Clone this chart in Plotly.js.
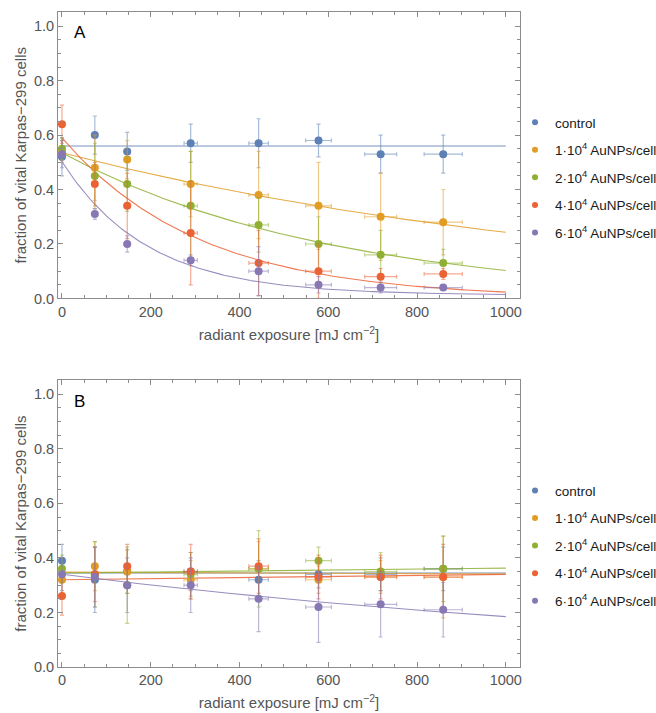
<!DOCTYPE html>
<html>
<head>
<meta charset="utf-8">
<script src="https://cdn.plot.ly/plotly-3.0.1.min.js"></script>
<style>
  html, body { margin: 0; padding: 0; background: #ffffff; }
  #chart { width: 656px; height: 713px; }
</style>
</head>
<body>
<div id="chart"></div>
<script>
// Radiant exposure of each irradiation step [mJ cm^-2] and its uncertainty
const exposure    = [0, 74, 147, 290, 443, 578, 718, 859];
const exposureErr = [0, 4, 7, 15, 22, 29, 36, 43];

const seriesNames = [
  'control',
  '1·10<sup>4</sup> AuNPs/cell',
  '2·10<sup>4</sup> AuNPs/cell',
  '4·10<sup>4</sup> AuNPs/cell',
  '6·10<sup>4</sup> AuNPs/cell'
];
const seriesColors = ['#5E81B5', '#E19C24', '#8FB032', '#EB6235', '#8778B3'];

// Panel A: fraction of vital cells
const controlA    = [0.52, 0.60, 0.54, 0.57, 0.57, 0.58, 0.53, 0.53];
const controlAErr = [0.07, 0.07, 0.07, 0.07, 0.09, 0.06, 0.07, 0.07];
const np1A        = [0.54, 0.48, 0.51, 0.42, 0.38, 0.34, 0.30, 0.28];
const np1AErr     = [0.04, 0.12, 0.07, 0.12, 0.16, 0.16, 0.16, 0.12];
const np2A        = [0.55, 0.45, 0.42, 0.34, 0.27, 0.20, 0.16, 0.13];
const np2AErr     = [0.04, 0.12, 0.10, 0.20, 0.10, 0.10, 0.09, 0.05];
const np4A        = [0.64, 0.42, 0.34, 0.24, 0.13, 0.10, 0.08, 0.09];
const np4AErr     = [0.07, 0.08, 0.12, 0.19, 0.12, 0.10, 0.03, 0.02];
const np6A        = [0.53, 0.31, 0.20, 0.14, 0.10, 0.05, 0.04, 0.04];
const np6AErr     = [0.05, 0.02, 0.03, 0.02, 0.09, 0.03, 0.02, 0.01];

// Panel A: exponential fit  f(D) = amp * exp(-rate * D) + offset
const fitAmpA    = [0.56, 0.535, 0.535, 0.59, 0.49];
const fitRateA   = [0, 0.00079, 0.00165, 0.00324, 0.0052];
const fitOffsetA = [0, 0, 0, 0, 0.012];

// Panel B: fraction of vital cells
const controlB    = [0.39, 0.32, 0.35, 0.35, 0.32, 0.34, 0.34, 0.36];
const controlBErr = [0.06, 0.12, 0.08, 0.07, 0.07, 0.05, 0.06, 0.08];
const np1B        = [0.32, 0.37, 0.35, 0.32, 0.36, 0.32, 0.33, 0.33];
const np1BErr     = [0.05, 0.09, 0.08, 0.07, 0.10, 0.05, 0.06, 0.15];
const np2B        = [0.36, 0.34, 0.30, 0.34, 0.36, 0.39, 0.35, 0.36];
const np2BErr     = [0.05, 0.12, 0.14, 0.08, 0.14, 0.05, 0.07, 0.12];
const np4B        = [0.26, 0.34, 0.37, 0.35, 0.37, 0.33, 0.33, 0.33];
const np4BErr     = [0.07, 0.10, 0.08, 0.10, 0.10, 0.08, 0.08, 0.12];
const np6B        = [0.34, 0.33, 0.30, 0.30, 0.25, 0.22, 0.23, 0.21];
const np6BErr     = [0.06, 0.11, 0.10, 0.10, 0.12, 0.13, 0.12, 0.10];

// Panel B: exponential fit
const fitAmpB    = [0.345, 0.348, 0.345, 0.32, 0.34];
const fitRateB   = [0, 0.00002, -0.00005, -0.00006, 0.00061];
const fitOffsetB = [0, 0, 0, 0, 0];

const fitMaxExposure = 1000;

const panelA = {
  values: [controlA, np1A, np2A, np4A, np6A],
  errors: [controlAErr, np1AErr, np2AErr, np4AErr, np6AErr],
  amp: fitAmpA, rate: fitRateA, offset: fitOffsetA,
  xaxis: 'x', yaxis: 'y', legend: 'legend'
};
const panelB = {
  values: [controlB, np1B, np2B, np4B, np6B],
  errors: [controlBErr, np1BErr, np2BErr, np4BErr, np6BErr],
  amp: fitAmpB, rate: fitRateB, offset: fitOffsetB,
  xaxis: 'x2', yaxis: 'y2', legend: 'legend2'
};

function rgba(hex, a) {
  const n = parseInt(hex.slice(1), 16);
  return 'rgba(' + (n >> 16 & 255) + ',' + (n >> 8 & 255) + ',' + (n & 255) + ',' + a + ')';
}

function fitCurve(amp, rate, offset) {
  const xs = [], ys = [];
  for (let d = 0; d <= fitMaxExposure; d += 5) {
    xs.push(d);
    ys.push(amp * Math.exp(-rate * d) + offset);
  }
  return { xs, ys };
}

function panelTraces(p) {
  const lines = [], points = [], keys = [];
  seriesNames.forEach((name, i) => {
    const c = fitCurve(p.amp[i], p.rate[i], p.offset[i]);
    lines.push({
      type: 'scatter', mode: 'lines', x: c.xs, y: c.ys,
      xaxis: p.xaxis, yaxis: p.yaxis, showlegend: false, hoverinfo: 'skip',
      line: { color: rgba(seriesColors[i], 0.85), width: 1.1 }
    });
    points.push({
      type: 'scatter', mode: 'markers', name: name,
      x: exposure, y: p.values[i],
      xaxis: p.xaxis, yaxis: p.yaxis, showlegend: false,
      marker: { color: seriesColors[i], size: 8 },
      error_y: { type: 'data', array: p.errors[i], visible: true,
                 color: rgba(seriesColors[i], 0.55), thickness: 1.2, width: 2 },
      error_x: { type: 'data', array: exposureErr, visible: true,
                 color: rgba(seriesColors[i], 0.55), thickness: 1.2, width: 2 }
    });
    // legend key: a small dot per series
    keys.push({
      type: 'scatter', mode: 'markers', name: name, x: [null], y: [null],
      xaxis: p.xaxis, yaxis: p.yaxis, legend: p.legend, legendgroup: p.legend + i,
      marker: { color: seriesColors[i], size: 6 }, hoverinfo: 'skip'
    });
  });
  return lines.concat(points, keys);
}

const data = panelTraces(panelA).concat(panelTraces(panelB));

const fontFamily = 'Liberation Sans, Arial, sans-serif';
const frameColor = '#8c8c8c';
const labelColor = '#555555';

function xAxis(anchor) {
  return {
    anchor: anchor, domain: [0, 1], range: [-9, 1032],
    showline: true, mirror: 'ticks', linecolor: frameColor, linewidth: 1,
    ticks: 'inside', ticklen: 5, tickcolor: frameColor, tickwidth: 1,
    dtick: 200, tick0: 0,
    minor: { dtick: 50, ticks: 'inside', ticklen: 3, tickcolor: frameColor },
    showgrid: false, zeroline: false,
    tickfont: { family: fontFamily, size: 14.5, color: labelColor },
    title: { text: 'radiant exposure [mJ cm<sup>−2</sup>]',
             font: { family: fontFamily, size: 15, color: labelColor }, standoff: 10 }
  };
}
function yAxis(anchor, domain) {
  return {
    anchor: anchor, domain: domain, range: [0, 1.052],
    showline: true, mirror: 'ticks', linecolor: frameColor, linewidth: 1,
    ticks: 'inside', ticklen: 5, tickcolor: frameColor, tickwidth: 1,
    dtick: 0.2, tick0: 0, tickformat: '.1f',
    minor: { dtick: 0.05, ticks: 'inside', ticklen: 3, tickcolor: frameColor },
    showgrid: false, zeroline: false,
    tickfont: { family: fontFamily, size: 14.5, color: labelColor },
    title: { text: 'fraction of vital Karpas−299 cells',
             font: { family: fontFamily, size: 15, color: labelColor }, standoff: 3 }
  };
}
function legendBox(y) {
  return {
    x: 0.9892, xanchor: 'left', y: y, yanchor: 'top',
    bgcolor: 'rgba(0,0,0,0)', borderwidth: 0,
    font: { family: fontFamily, size: 13.5, color: '#1a1a1a' },
    itemsizing: 'trace', tracegroupgap: 7, traceorder: 'grouped'
  };
}

const layout = {
  width: 656, height: 713,
  margin: { l: 58, r: 136, t: 12, b: 46, autoexpand: false },
  paper_bgcolor: '#ffffff', plot_bgcolor: '#ffffff',
  font: { family: fontFamily },
  showlegend: true,
  xaxis: xAxis('y'),
  yaxis: yAxis('x', [0.5627, 1]),
  xaxis2: xAxis('y2'),
  yaxis2: yAxis('x2', [0, 0.4379]),
  legend: legendBox(0.855),
  legend2: legendBox(0.2928),
  annotations: [
    { text: 'A', xref: 'x', yref: 'y', x: 40, y: 0.975, showarrow: false,
      font: { family: fontFamily, size: 17, color: '#000000' } },
    { text: 'B', xref: 'x2', yref: 'y2', x: 40, y: 0.975, showarrow: false,
      font: { family: fontFamily, size: 17, color: '#000000' } }
  ]
};

Plotly.newPlot('chart', data, layout, { staticPlot: true, displayModeBar: false });
</script>
</body>
</html>
